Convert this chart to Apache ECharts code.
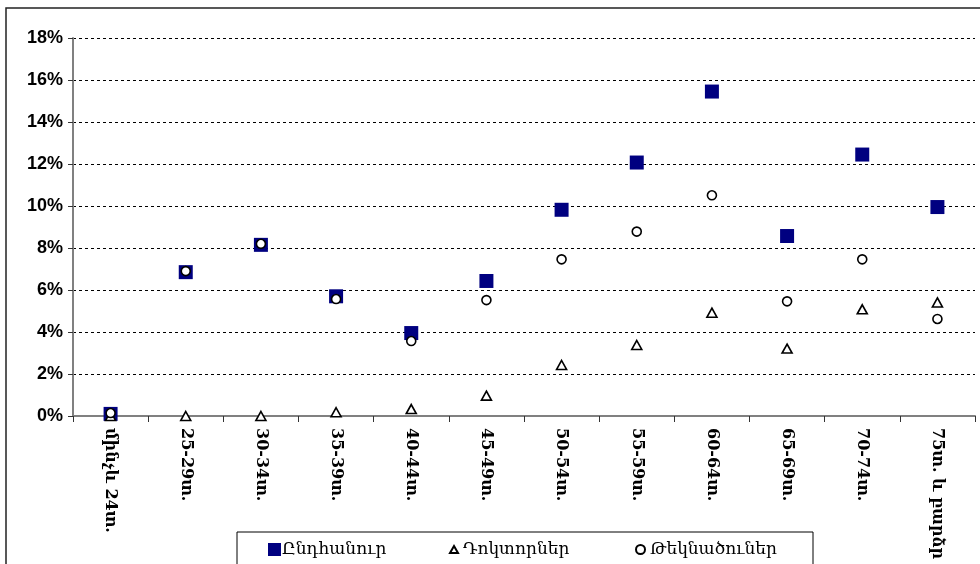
<!DOCTYPE html>
<html>
<head>
<meta charset="utf-8">
<script src="https://cdn.jsdelivr.net/npm/echarts@6/dist/echarts.min.js"></script>
<style>html,body{margin:0;padding:0;background:#fff}#c{width:980px;height:564px}</style>
</head>
<body>
<div id="c"></div>
<script>
const categories = ['մինչև 24տ.', '25-29տ.', '30-34տ.', '35-39տ.', '40-44տ.', '45-49տ.', '50-54տ.', '55-59տ.', '60-64տ.', '65-69տ.', '70-74տ.', '75տ. և բարձր'];
const seriesNames = ['Ընդհանուր', 'Դոկտորներ', 'Թեկնածուներ'];
const total = [0.1, 6.85, 8.15, 5.7, 3.95, 6.43, 9.82, 12.07, 15.45, 8.57, 12.45, 9.95];
const doctors = [0.0, 0.0, 0.0, 0.18, 0.33, 0.97, 2.43, 3.38, 4.92, 3.21, 5.08, 5.41];
const candidates = [0.14, 6.9, 8.2, 5.57, 3.57, 5.52, 7.46, 8.78, 10.51, 5.46, 7.46, 4.62];
const yTicks = [0, 2, 4, 6, 8, 10, 12, 14, 16, 18];

const chart = echarts.init(document.getElementById('c'));
const legendFont = {fontFamily: 'DejaVu Serif', fontSize: 17, color: '#000'};
chart.setOption({
  animation: false,
  backgroundColor: '#fff',
  graphic: [
    {type: 'rect', z: -10, shape: {x: 6, y: 8, width: 1000, height: 600}, style: {fill: '#fff', stroke: '#222', lineWidth: 1.5}},
    {type: 'rect', z: 50, shape: {x: 237, y: 532, width: 576, height: 60}, style: {fill: '#fff', stroke: '#000', lineWidth: 1}}
  ],
  grid: {left: 73, right: 5, top: 38, bottom: 148, containLabel: false},
  legend: [
    {data: [seriesNames[0]], left: 268, top: 541, itemWidth: 13, itemHeight: 13, itemGap: 0, textStyle: Object.assign({padding: [0, 0, 0, -4]}, legendFont), z: 60, padding: 0},
    {data: [seriesNames[1]], left: 449, top: 541, itemWidth: 8, itemHeight: 7, textStyle: legendFont, z: 60, padding: 0},
    {data: [seriesNames[2]], left: 635, top: 541, itemWidth: 9, itemHeight: 9, textStyle: legendFont, z: 60, padding: 0}
  ],
  xAxis: {
    type: 'category',
    data: categories,
    boundaryGap: true,
    axisLine: {lineStyle: {color: '#808080', width: 2}},
    axisTick: {show: true, length: 6, inside: false, lineStyle: {color: '#333', width: 1}},
    axisLabel: {rotate: -90, interval: 0, margin: 12, fontFamily: 'DejaVu Serif', fontWeight: 'bold', fontSize: 16, color: '#000'},
    splitLine: {show: false}
  },
  yAxis: {
    type: 'value',
    min: 0, max: 18, interval: 2,
    axisLine: {show: true, lineStyle: {color: '#808080', width: 2}},
    axisTick: {show: true, length: 5, lineStyle: {color: '#333'}},
    axisLabel: {fontFamily: 'Liberation Sans', fontWeight: 'bold', fontSize: 18, color: '#000', margin: 10, formatter: '{value}%'},
    splitLine: {show: true, lineStyle: {color: '#000', type: [3, 3], width: 1}}
  },
  series: [
    {name: seriesNames[0], type: 'scatter', data: total, symbol: 'rect', symbolSize: 14, itemStyle: {color: '#000080', opacity: 1}, z: 2},
    {name: seriesNames[1], type: 'scatter', data: doctors, symbol: 'triangle', symbolSize: [10, 9], itemStyle: {color: '#fff', borderColor: '#000', borderWidth: 1.6, opacity: 1}, z: 3},
    {name: seriesNames[2], type: 'scatter', data: candidates, symbol: 'circle', symbolSize: 9, itemStyle: {color: '#fff', borderColor: '#000', borderWidth: 1.6, opacity: 1}, z: 4}
  ]
});
</script>
</body>
</html>
